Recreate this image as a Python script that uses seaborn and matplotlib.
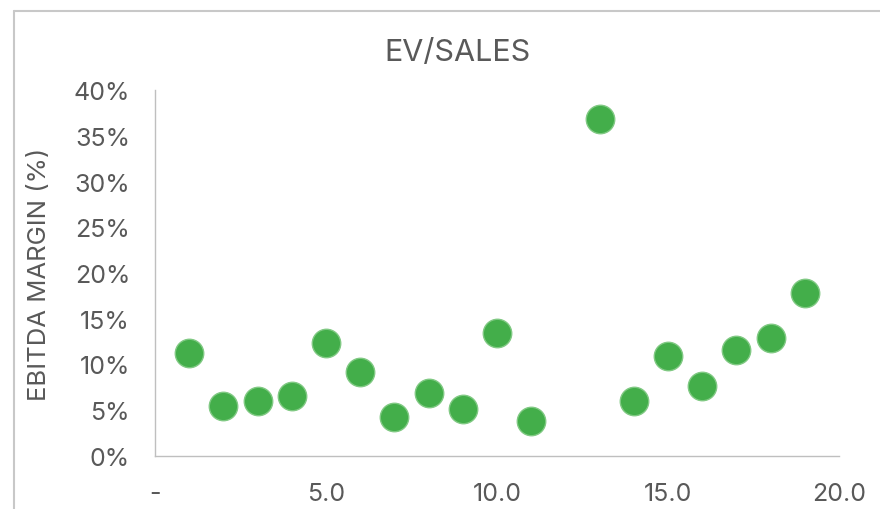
import matplotlib
matplotlib.use("Agg")
import matplotlib.pyplot as plt
import matplotlib.ticker as mticker
from matplotlib.lines import Line2D
import seaborn as sns
import pandas as pd

# ---------------------------------------------------------
# Data
# ---------------------------------------------------------
ev_sales = [1, 2, 3, 4, 5, 6, 7, 8, 9, 10, 11, 13, 14, 15, 16, 17, 18, 19]
ebitda_margin = [11.3, 5.5, 6.0, 6.6, 12.3, 9.2, 4.3, 6.9, 5.1, 13.4,
                 3.8, 36.8, 6.0, 10.9, 7.7, 11.6, 12.9, 17.8]
x_ticks = [0, 5, 10, 15, 20]
x_tick_labels = ["-", "5.0", "10.0", "15.0", "20.0"]
y_ticks = [0, 5, 10, 15, 20, 25, 30, 35, 40]

df = pd.DataFrame({"ev_sales": ev_sales, "margin": ebitda_margin})

sns.set_style("white")
plt.rcParams["font.family"] = ["Inter", "DejaVu Sans"]

TEXT = "#595959"
GRID = "#BFBFBF"

fig = plt.figure(figsize=(8.8, 5.1), dpi=100)
ax = fig.add_axes([155 / 880, 1 - 457 / 510, (839 - 155) / 880, (457 - 91) / 510])

sns.scatterplot(data=df, x="ev_sales", y="margin", ax=ax, s=420,
                color="#43AE4A", edgecolor="#80C983", linewidth=1.0, zorder=3)

ax.set_xlim(0, 20)
ax.set_ylim(0, 40)
ax.set_xticks(x_ticks)
ax.set_xticklabels(x_tick_labels)
ax.set_yticks(y_ticks)
ax.yaxis.set_major_formatter(mticker.FuncFormatter(lambda v, p: f"{v:.0f}%"))

for side in ["top", "right"]:
    ax.spines[side].set_visible(False)
for side in ["left", "bottom"]:
    ax.spines[side].set_color(GRID)
    ax.spines[side].set_linewidth(1.0)

ax.tick_params(axis="both", colors=GRID, labelcolor=TEXT, labelsize=18,
               length=8, width=1.0, direction="out")
ax.tick_params(axis="x", pad=11)
ax.tick_params(axis="y", pad=10)
for t in ax.get_xticklabels() + ax.get_yticklabels():
    t.set_color(TEXT)

ax.set_xlabel("")
ax.set_ylabel("EBITDA MARGIN (%)", fontsize=18.5, color=TEXT)
ax.yaxis.set_label_coords(-0.152, 0.5)

fig.text(457 / 880, 1 - 53 / 510, "EV/SALES", ha="center", va="center",
         fontsize=22, color=TEXT)

# chart border (top and left edges visible)
fig.add_artist(Line2D([13.5 / 880, 1.0], [1 - 11.5 / 510] * 2, color="#C8C8C8",
                      linewidth=1.5, transform=fig.transFigure))
fig.add_artist(Line2D([13.5 / 880] * 2, [0.0, 1 - 11.5 / 510], color="#C8C8C8",
                      linewidth=1.5, transform=fig.transFigure))

fig.savefig("out.png", dpi=100, facecolor="white")
plt.close(fig)
